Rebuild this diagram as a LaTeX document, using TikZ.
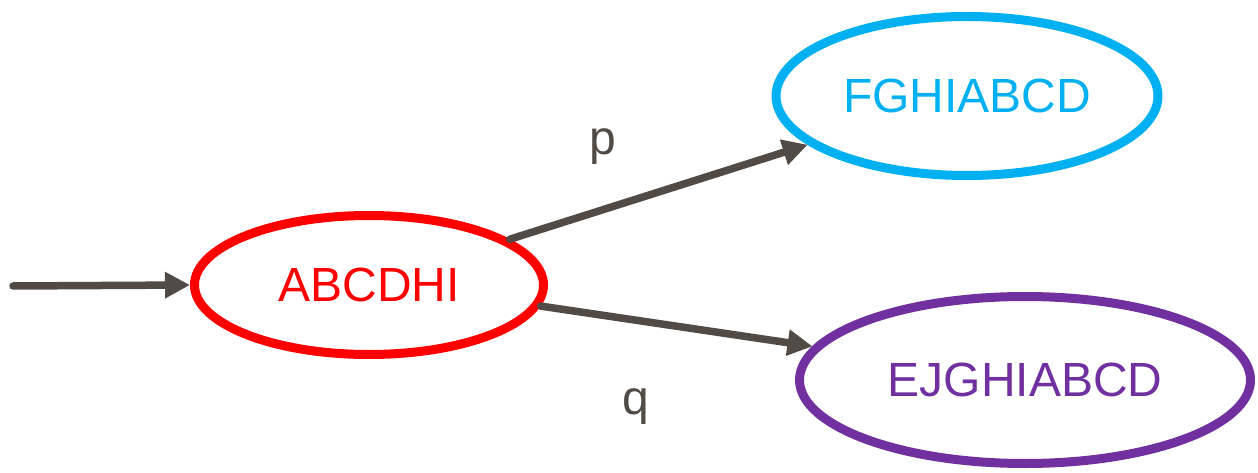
\documentclass[tikz,border=0pt]{standalone}
\usepackage{fontspec}
\setmainfont{Liberation Sans}
\usetikzlibrary{shapes.geometric,arrows.meta}
\definecolor{edgegray}{HTML}{514A45}
\definecolor{stred}{HTML}{FF0000}
\definecolor{stblue}{HTML}{00B0F0}
\definecolor{stpurple}{HTML}{7030A0}
\begin{document}
\begin{tikzpicture}[x=1pt,y=-1pt,
  state/.style={ellipse,draw,line width=9pt,inner sep=0pt,
    font=\fontsize{48}{56}\selectfont},
  trans/.style={draw=edgegray,line width=7.5pt,line cap=round,
    -{Triangle[length=25pt,width=25pt]}},
  lbl/.style={text=edgegray,font=\fontsize{48}{56}\selectfont}]
\useasboundingbox (0,0) rectangle (1258,473);
% states
\node[state,draw=stred,text=stred,minimum width=349pt,minimum height=139pt] (s0) at (369,285) {ABCDHI};
\node[state,draw=stblue,text=stblue,minimum width=382pt,minimum height=159pt] (s1) at (967,96) {FGHIABCD};
\node[state,draw=stpurple,text=stpurple,minimum width=451pt,minimum height=167pt] (s2) at (1025,380) {EJGHIABCD};
% initial arrow
\coordinate (init) at (13,286);
\draw[trans] (init) -- (s0.west);
% transitions
\draw[trans] (s0.18.4) -- (s1.197.5);
\draw[trans] (s0.-7) -- (s2.171);
% transition labels
\node[lbl] (lp) at (603,147) {p};
\node[lbl] (lq) at (636,407) {q};
\end{tikzpicture}
\end{document}
